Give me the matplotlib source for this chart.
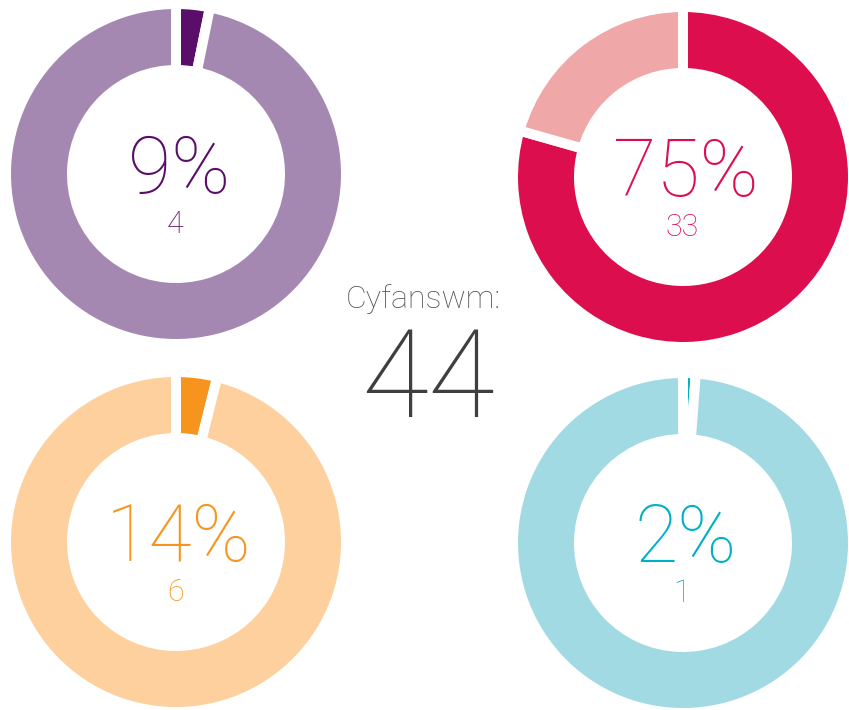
import matplotlib
matplotlib.use("Agg")
import matplotlib.pyplot as plt

# ---- data ----
total = 44
counts = [4, 33, 6, 1]
# share of the ring taken by the highlighted segment, as drawn in the picture
arc_share = [0.032, 0.794, 0.039, 0.012]
total_label = "Cyfanswm:"

# ---- styles ----
dark_colors = ["#5B0E69", "#DC0E4E", "#F7941D", "#00B0C4"]
light_colors = ["#A488B2", "#F0A7A8", "#FDD09E", "#A2DAE4"]
# donut centres in pixel coordinates (origin bottom-left)
W, H = 849, 710
centers = [(176, H - 174), (683, H - 177), (176, H - 542), (683, H - 543)]
R_OUT = 170   # includes half of white stroke
R_IN = 104
GAP_PT = 7.2

FONT = ["Roboto", "DejaVu Sans"]
WEIGHT = "light"

fig = plt.figure(figsize=(W / 100, H / 100), dpi=100)
ax = fig.add_axes([0, 0, 1, 1])

for i, (cx, cy) in enumerate(centers):
    share = arc_share[i]
    ax.pie([share, 1 - share], colors=[dark_colors[i], light_colors[i]],
           startangle=90, counterclock=False, center=(cx, cy), radius=R_OUT,
           wedgeprops=dict(width=R_OUT - R_IN, edgecolor="white",
                           linewidth=GAP_PT, joinstyle="miter"))
    pct = round(100 * counts[i] / total)
    ax.text(cx + 3, cy - 19, f"{pct}%", ha="center", va="baseline",
            fontsize=57, color=dark_colors[i], family=FONT, fontweight=WEIGHT)
    ax.text(cx - 1, cy - 59, f"{counts[i]}", ha="center", va="baseline",
            fontsize=22, color=dark_colors[i], family=FONT, fontweight=WEIGHT)

ax.text(423, H - 308, total_label, ha="center", va="baseline", fontsize=23,
        color="#555555", family=FONT, fontweight=WEIGHT)
ax.text(428, H - 417, f"{total}", ha="center", va="baseline", fontsize=88,
        color="#3F3F3F", family=FONT, fontweight=WEIGHT)

ax.set_xlim(0, W)
ax.set_ylim(0, H)
ax.set_aspect("equal")
ax.axis("off")

fig.savefig("out.png", dpi=100, facecolor="white")
